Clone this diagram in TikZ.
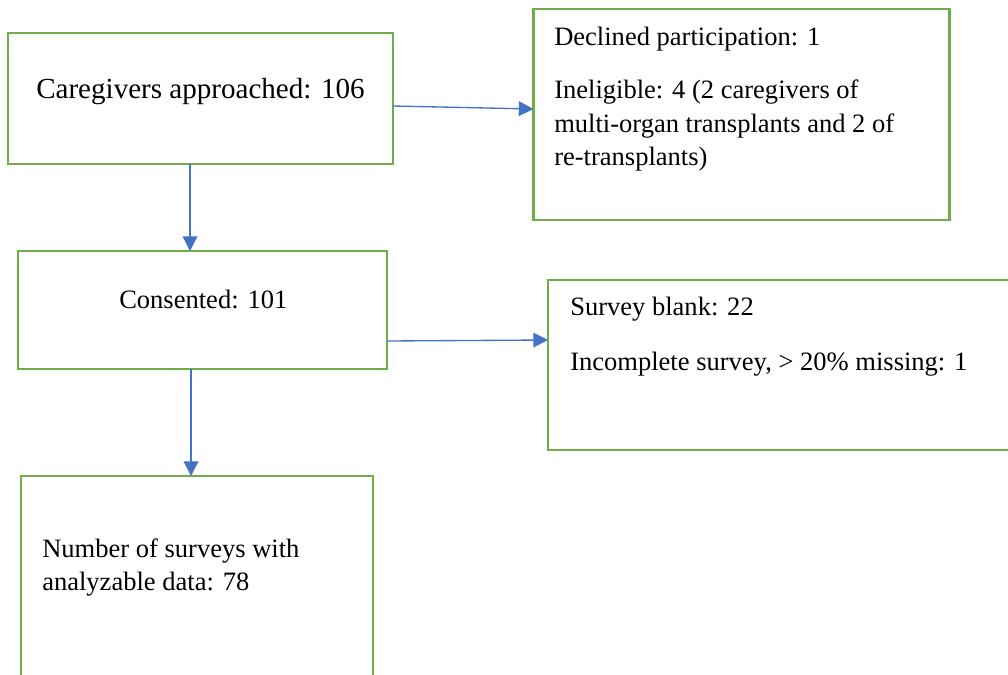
\documentclass[tikz,border=0pt]{standalone}
\usepackage{fontspec}
\setmainfont{Liberation Serif}
\usetikzlibrary{arrows.meta}
\definecolor{boxgreen}{HTML}{70AD47}
\definecolor{arrblue}{HTML}{4472C4}
\tikzset{
  box/.style={draw=boxgreen, line width=2.1pt, rectangle, inner sep=0pt, outer sep=0pt},
  arr/.style={draw=arrblue, line width=1pt, -{Triangle[length=11pt,width=11pt]}},
  txt/.style={anchor=base west, inner sep=0pt, font=\fontsize{19.9}{25}\selectfont},
  bigtxt/.style={anchor=base west, inner sep=0pt, font=\fontsize{21.8}{27}\selectfont}
}
\begin{document}
\begin{tikzpicture}[x=0.75pt,y=-0.75pt]
\useasboundingbox (0,0) rectangle (1008,675);
\begin{scope}
\clip (0,0) rectangle (1008,675);
% boxes
\node[box, minimum width=385*0.75pt, minimum height=131*0.75pt] (A) at (200.5,98.5) {};
\node[box, minimum width=416*0.75pt, minimum height=211*0.75pt] (B) at (741.5,114.5) {};
\node[box, minimum width=369*0.75pt, minimum height=118*0.75pt] (C) at (202.5,310) {};
\node[box, minimum width=470*0.75pt, minimum height=170*0.75pt] (D) at (783,365) {};
\node[box, minimum width=352*0.75pt, minimum height=230*0.75pt] (E) at (197,591) {};
\end{scope}
% texts
\node[bigtxt] (tA) at (36,98) {Caregivers approached: 106};
\node[txt] (tB1) at (554,45) {Declined participation: 1};
\node[txt] (tB2) at (554,98) {Ineligible: 4 (2 caregivers of};
\node[txt] (tB3) at (554,132) {multi-organ transplants and 2 of};
\node[txt] (tB4) at (554,165) {re-transplants)};
\node[txt] (tC) at (119,308) {Consented: 101};
\node[txt] (tD1) at (570,315) {Survey blank: 22};
\node[txt] (tD2) at (570,370) {Incomplete survey, > 20\% missing: 1};
\node[txt] (tE1) at (42,557) {Number of surveys with};
\node[txt] (tE2) at (42,590) {analyzable data: 78};
% connectors
\draw[arr] ([yshift=-7.5*0.75pt]A.east) -- ([yshift=5.5*0.75pt]B.west);
\draw[arr] ([xshift=-10.5*0.75pt]A.south) -- ([xshift=-12.5*0.75pt]C.north);
\draw[arr] ([yshift=-31*0.75pt]C.east) -- ([yshift=25*0.75pt]D.west);
\draw[arr] ([xshift=-11.5*0.75pt]C.south) -- ([xshift=-6*0.75pt]E.north);
\end{tikzpicture}
\end{document}
